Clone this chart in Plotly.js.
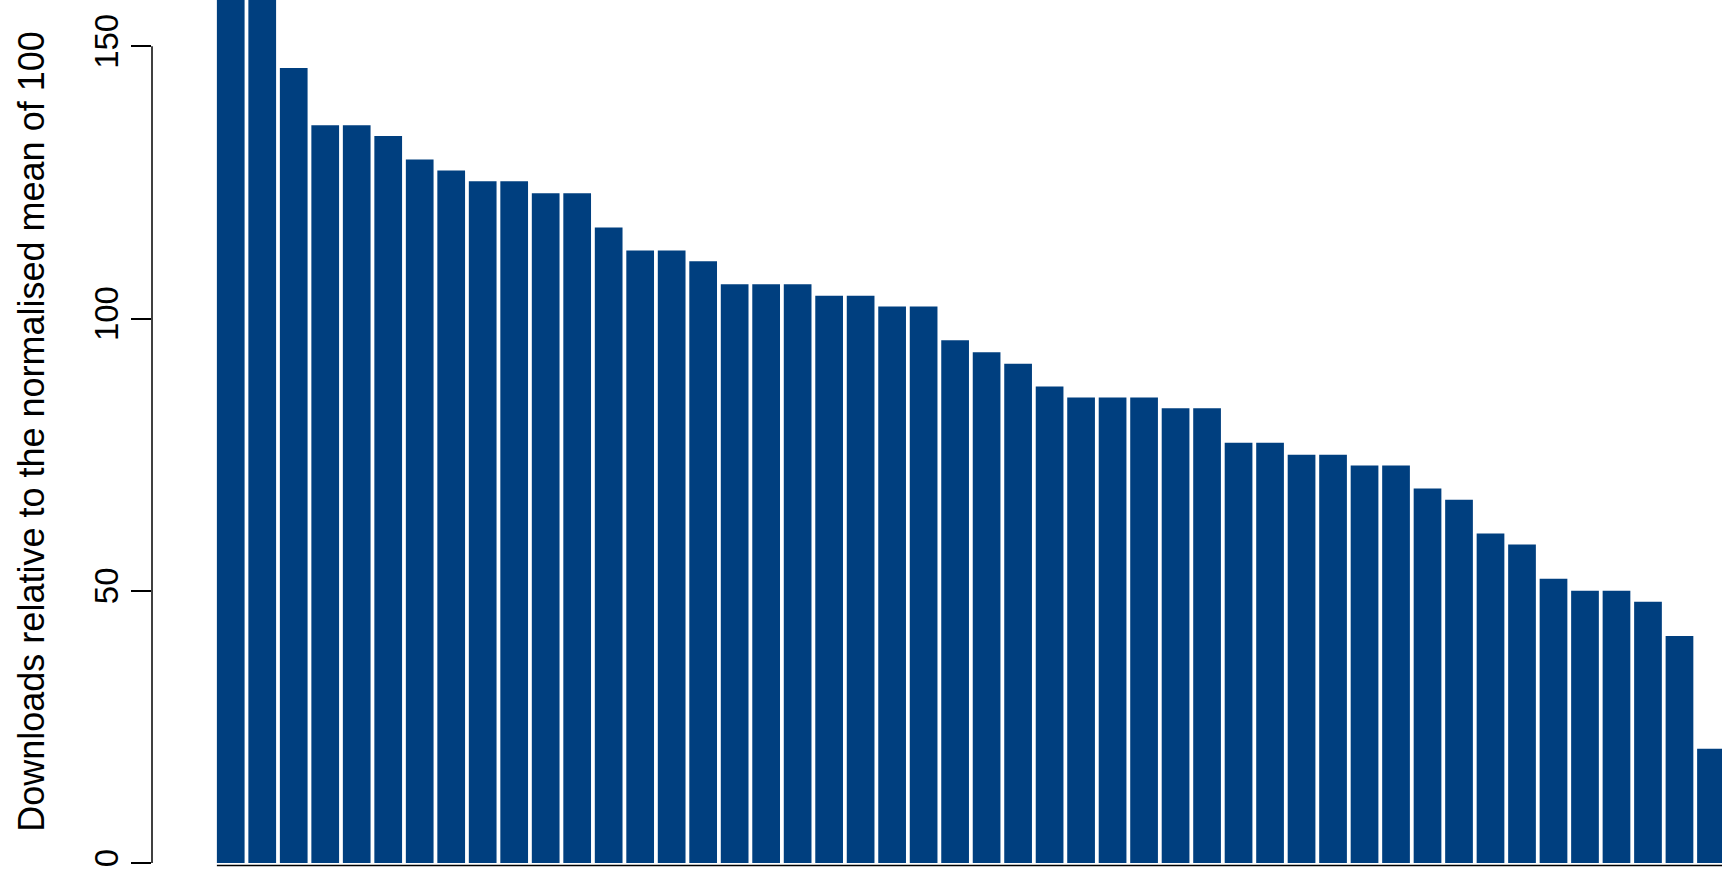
<!DOCTYPE html>
<html><head><meta charset="utf-8">
<script src="https://cdn.plot.ly/plotly-3.0.1.min.js"></script>
<style>body{margin:0;background:#fff}</style></head>
<body><div id="c" style="width:1722px;height:876px"></div>
<script>
const ranks = Array.from({length:48},(_,i)=>i+1);
const values = [170,170,146,135.5,135.5,133.5,129.2,127.2,125.2,125.2,123,123,116.7,112.5,112.5,110.5,106.3,106.3,106.3,104.2,104.2,102.2,102.2,96,93.8,91.7,87.5,85.5,85.5,85.5,83.5,83.5,77.2,77.2,75,75,73,73,68.8,66.7,60.5,58.5,52.2,50,50,48,41.7,21];
const tickVals = [0,50,100,150];
Plotly.newPlot('c',[{type:'bar',x:ranks,y:values,marker:{color:'#003F7F'},hoverinfo:'none'}],{
  width:1722,height:876,margin:{l:152,r:0,t:0,b:13},
  paper_bgcolor:'#fff',plot_bgcolor:'#fff',bargap:0.12,showlegend:false,
  xaxis:{range:[-1.5,48.35],showticklabels:false,showgrid:false,zeroline:false,ticks:''},
  yaxis:{range:[0,158.5],tickvals:tickVals,ticks:'outside',ticklen:20,tickwidth:1.5,tickcolor:'#000',
    tickangle:-90,showgrid:false,zeroline:false,showline:false,
    tickfont:{family:'Liberation Sans, Arial',size:33,color:'#000'},
    title:{text:'Downloads relative to the normalised mean of 100',standoff:32,font:{family:'Liberation Sans, Arial',size:36,color:'#000'}}},
  shapes:[
    {type:'line',xref:'paper',yref:'y',x0:0,x1:0,y0:0,y1:150,line:{color:'#000',width:1.5}},
    {type:'line',xref:'x',yref:'paper',x0:0.56,x1:48.44,y0:-0.003,y1:-0.003,line:{color:'#000',width:1.5}}
  ]
},{displayModeBar:false});
</script></body></html>
